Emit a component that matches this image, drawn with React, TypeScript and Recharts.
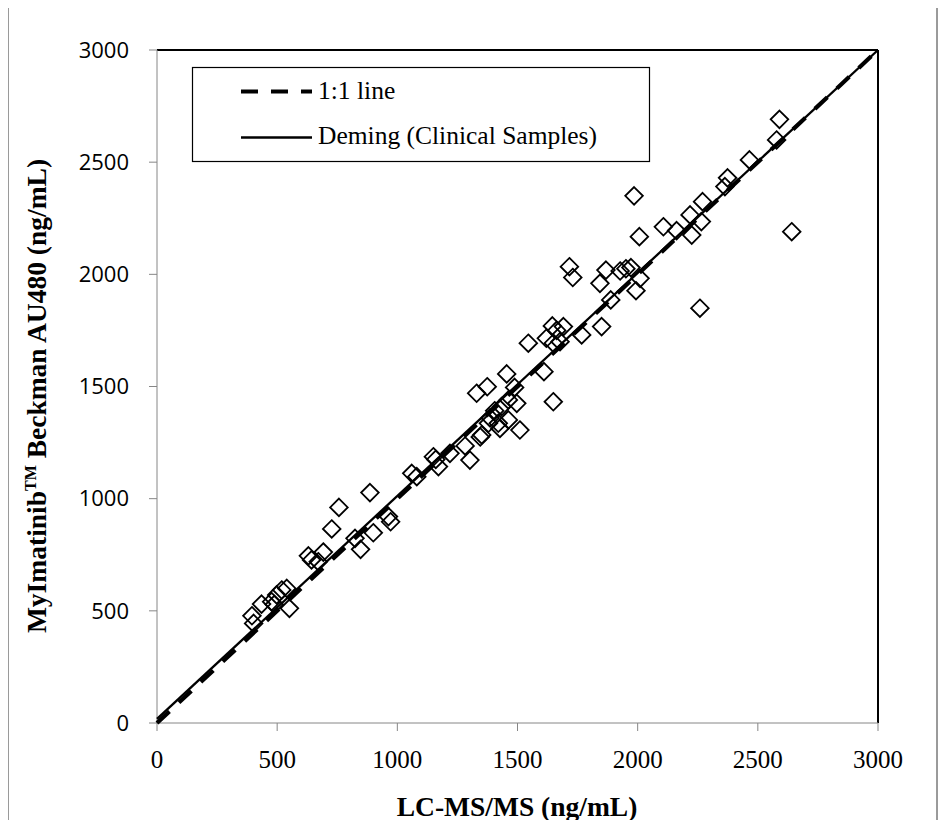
import React from 'react';
import { ScatterChart, Scatter, XAxis, YAxis, ReferenceLine } from 'recharts';

// LC-MS/MS (x) vs MyImatinib Beckman AU480 (y), ng/mL
const lcms = [
  395, 402, 435, 477, 488, 498, 519, 540, 551,
  630, 643, 671, 692, 727, 757, 824, 847, 886, 900, 963, 972,
  1060, 1081, 1150, 1160, 1171, 1219, 1282, 1302, 1330, 1345, 1351, 1374, 1379, 1386,
  1405, 1420, 1427, 1434, 1455, 1462, 1462, 1488, 1497, 1510, 1545,
  1610, 1620, 1645, 1649, 1649, 1663, 1677, 1691, 1716, 1730, 1767,
  1843, 1850, 1868, 1888, 1927, 1951, 1972, 1985, 1993, 2007, 2010,
  2107, 2162, 2218, 2225, 2259, 2265, 2270, 2363, 2374, 2465, 2578, 2590, 2641,
];
const au480 = [
  478, 444, 530, 541, 528, 571, 593, 600, 511,
  745, 727, 719, 762, 865, 961, 823, 774, 1027, 848, 920, 897,
  1113, 1098, 1187, 1175, 1143, 1202, 1235, 1172, 1470, 1275, 1284, 1499, 1336, 1360,
  1392, 1336, 1313, 1410, 1556, 1351, 1440, 1496, 1425, 1306, 1693,
  1566, 1715, 1770, 1432, 1693, 1750, 1700, 1767, 2034, 1986, 1730,
  1960, 1767, 2019, 1886, 2015, 2025, 2030, 2350, 1927, 2168, 1982,
  2212, 2195, 2265, 2175, 1849, 2235, 2324, 2391, 2430, 2510, 2599, 2691, 2190,
];

// 1:1 line and Deming fit endpoints
const identityX = [0, 3000];
const identityY = [0, 3000];
const demingX = [0, 3000];
const demingY = [18, 3000];

const ticks = [0, 500, 1000, 1500, 2000, 2500, 3000];

const samples = lcms.map((x, i) => ({ x, y: au480[i] }));
const identity = identityX.map((x, i) => ({ x, y: identityY[i] }));
const deming = demingX.map((x, i) => ({ x, y: demingY[i] }));

const Diamond = (props: any) => {
  const { cx, cy } = props;
  const r = 8.8;
  return (
    <path
      d={`M${cx},${cy - r}L${cx + r},${cy}L${cx},${cy + r}L${cx - r},${cy}Z`}
      fill="none"
      stroke="#000"
      strokeWidth={1.8}
    />
  );
};

const NoDot = () => <g />;

const serif = 'Liberation Serif, Times New Roman, serif';

export default function App() {
  return (
    <div style={{ position: 'relative', width: 946, height: 828, margin: -8, background: '#fff', fontFamily: serif }}>
      <div style={{ position: 'absolute', left: 0, top: 0 }}>
        <ScatterChart width={946} height={828} margin={{ top: 50, right: 68, bottom: 45, left: 77 }}>
          <XAxis
            type="number"
            dataKey="x"
            domain={[0, 3000]}
            ticks={ticks}
            height={60}
            axisLine={{ stroke: '#868686', strokeWidth: 1 }}
            tickLine={{ stroke: '#868686' }}
            tickSize={8}
            tickMargin={19}
            tick={{ fill: '#000', fontSize: 25, fontFamily: serif }}
          />
          <YAxis
            type="number"
            dataKey="y"
            domain={[0, 3000]}
            ticks={ticks}
            width={80}
            axisLine={{ stroke: '#868686', strokeWidth: 1 }}
            tickLine={{ stroke: '#868686' }}
            tickSize={8}
            tickMargin={20}
            tick={{ fill: '#000', fontSize: 22, fontFamily: 'Open Sans, sans-serif' }}
          />
          <ReferenceLine y={3000} stroke="#000" strokeWidth={2} />
          <ReferenceLine x={3000} stroke="#000" strokeWidth={2} />
          <Scatter data={samples} shape={<Diamond />} isAnimationActive={false} />
          <Scatter
            data={identity}
            shape={<NoDot />}
            line={{ stroke: '#000', strokeWidth: 4.2, strokeDasharray: '17 13' }}
            lineType="joint"
            isAnimationActive={false}
          />
          <Scatter
            data={deming}
            shape={<NoDot />}
            line={{ stroke: '#000', strokeWidth: 2.3 }}
            lineType="joint"
            isAnimationActive={false}
          />
        </ScatterChart>
      </div>

      <svg width={946} height={828} style={{ position: 'absolute', left: 0, top: 0, pointerEvents: 'none' }}>
        {/* chart frame */}
        <rect x={8} y={3} width={929} height={822} fill="none" stroke="#7a7a7a" strokeWidth={1.5} />

        {/* legend */}
        <rect x={192.5} y={67.5} width={457} height={94} fill="#fff" stroke="#000" strokeWidth={1.2} />
        <line x1={241} y1={91.5} x2={312} y2={91.5} stroke="#000" strokeWidth={4.2} strokeDasharray="17 13" />
        <text x={318} y={99} fontSize={25.5} fontFamily={serif} fill="#000">1:1 line</text>
        <line x1={241} y1={137.5} x2={312} y2={137.5} stroke="#000" strokeWidth={2.3} />
        <text x={318} y={144} fontSize={25.5} fontFamily={serif} fill="#000">Deming (Clinical Samples)</text>

        {/* axis titles */}
        <text x={517} y={816} textAnchor="middle" fontSize={27.5} fontWeight="bold" fontFamily={serif} fill="#000">
          LC-MS/MS (ng/mL)
        </text>
        <text
          x={46}
          y={396}
          textAnchor="middle"
          transform="rotate(-90 46 396)"
          fontSize={27.5}
          fontWeight="bold"
          fontFamily={serif}
          fill="#000"
        >
          MyImatinib
          <tspan fontSize={16} dy={-10}>TM</tspan>
          <tspan dy={10}> Beckman AU480 (ng/mL)</tspan>
        </text>
      </svg>
    </div>
  );
}
